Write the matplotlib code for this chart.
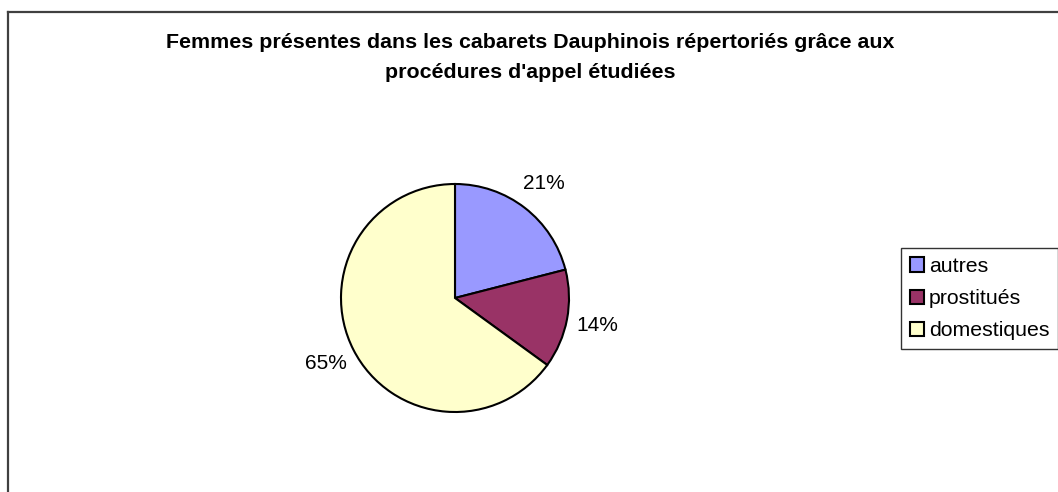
import matplotlib
matplotlib.use("Agg")
import matplotlib.pyplot as plt
from matplotlib.lines import Line2D

categories = ["autres", "prostitués", "domestiques"]
values = [21, 14, 65]
colors = ["#9999FF", "#993366", "#FFFFCC"]
title_lines = ["Femmes présentes dans les cabarets Dauphinois répertoriés grâce aux",
               "procédures d'appel étudiées"]

plt.rcParams['font.family'] = ['Liberation Sans', 'DejaVu Sans']

W, H = 1058, 492
fig = plt.figure(figsize=(W / 100, H / 100), dpi=100)
fig.patch.set_facecolor("white")

# chart border (left and top visible)
fig.add_artist(Line2D([8 / W, 8 / W], [0, 1 - 12 / H], transform=fig.transFigure,
                      color="#404040", lw=1.6))
fig.add_artist(Line2D([8 / W, 1], [1 - 12 / H, 1 - 12 / H], transform=fig.transFigure,
                      color="#404040", lw=1.6))

cx, cy, r = 455, 298, 114
ax = fig.add_axes([(cx - r) / W, (H - cy - r) / H, 2 * r / W, 2 * r / H])
wedges, texts, autotexts = ax.pie(
    values, colors=colors, startangle=90, counterclock=False,
    autopct='%1.0f%%', pctdistance=1.27,
    wedgeprops=dict(edgecolor="black", linewidth=1.5),
    textprops=dict(fontsize=15, color="black"))
ax.set_xlim(-1, 1)
ax.set_ylim(-1, 1)
ax.set_aspect("equal")
ax.axis("off")

fig.text(530 / W, 1 - 43 / H, title_lines[0], ha="center", va="center",
         fontsize=15.4, fontweight="bold")
fig.text(530 / W, 1 - 73 / H, title_lines[1], ha="center", va="center",
         fontsize=15.4, fontweight="bold")

leg = fig.legend(wedges, categories, loc="upper left",
                 bbox_to_anchor=(901 / W, 1 - 248 / H),
                 fontsize=15.3, frameon=True, fancybox=False,
                 edgecolor="black", handlelength=0.65, handleheight=0.65,
                 handletextpad=0.25, labelspacing=0.62, borderpad=0.42,
                 borderaxespad=0)
leg.get_frame().set_linewidth(1.0)
for h in leg.legend_handles:
    h.set_edgecolor("black")
    h.set_linewidth(1.5)

fig.savefig("out.png", dpi=100, facecolor="white")
